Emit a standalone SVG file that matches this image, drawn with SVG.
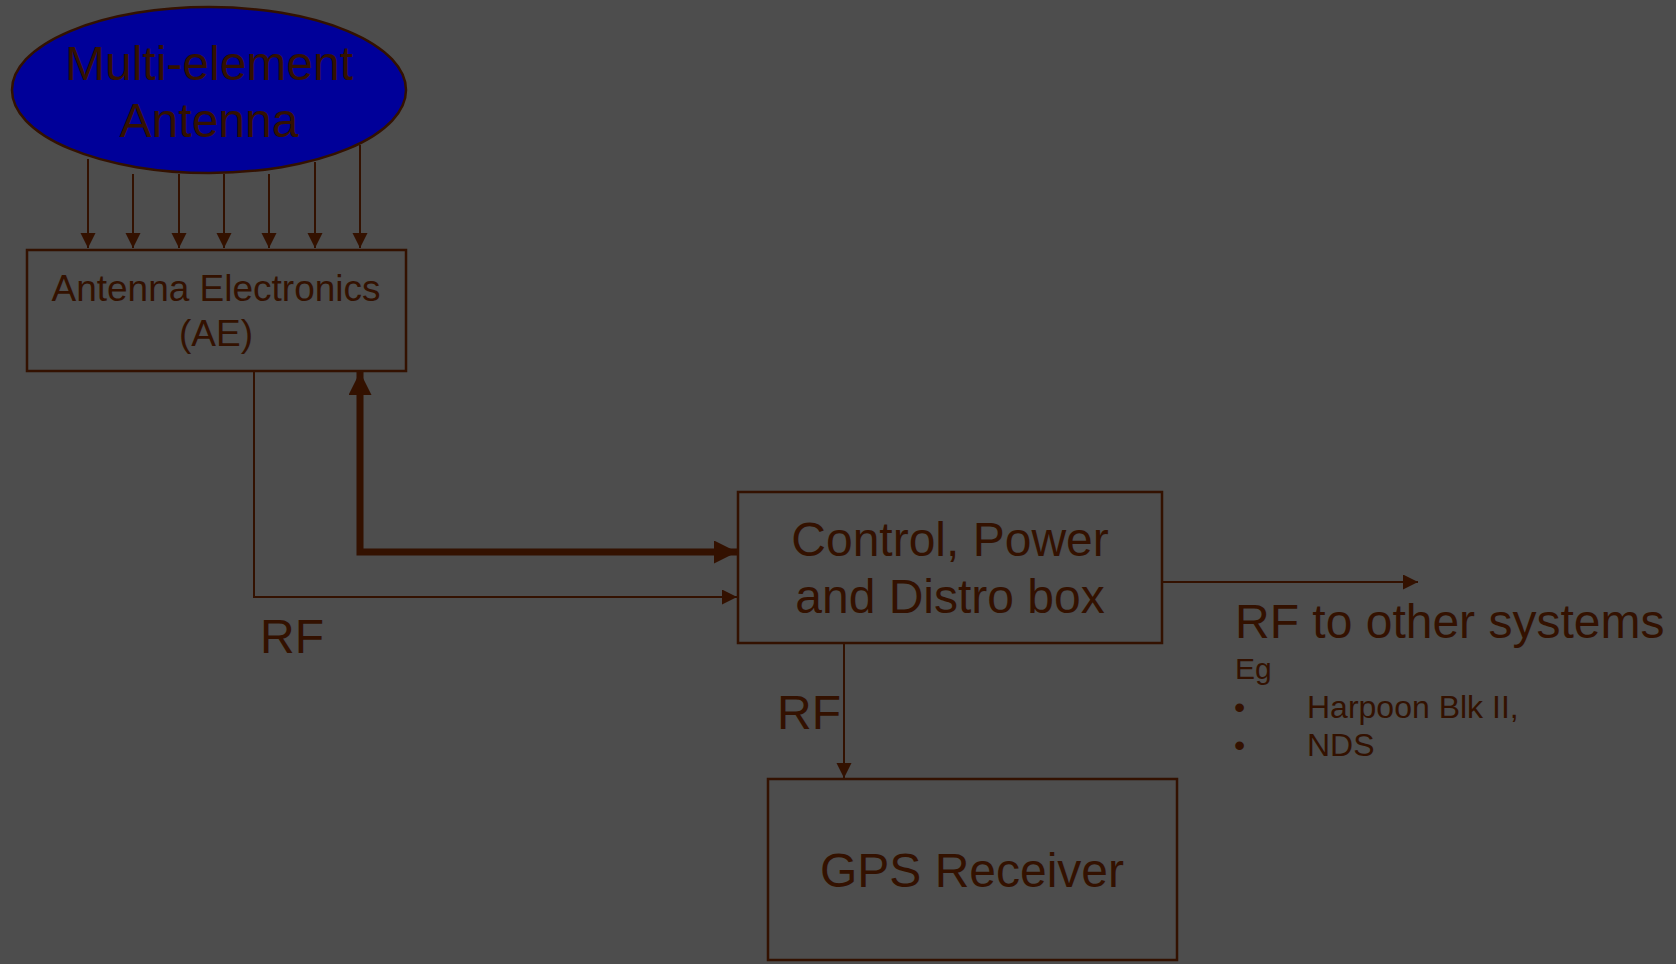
<svg xmlns="http://www.w3.org/2000/svg" width="1676" height="964" viewBox="0 0 1676 964">
<style>
.bx{fill:none;stroke:#331100;stroke-width:2.5}
.ln{fill:none;stroke:#331100;stroke-width:2}
.tk{fill:none;stroke:#331100;stroke-width:7}
text{font-family:"Liberation Sans",Arial,sans-serif;fill:#331100}
.big{font-size:48px}
.mid{font-size:37px}
.sm{font-size:32px}
</style>
<defs>
<marker id="ah" markerUnits="userSpaceOnUse" markerWidth="16" markerHeight="16" refX="15" refY="7.5" orient="auto">
<path d="M0,0 L15,7.5 L0,15 z" fill="#331100"/>
</marker>
<marker id="ahb" markerUnits="userSpaceOnUse" markerWidth="24" markerHeight="24" refX="23" refY="11.5" orient="auto-start-reverse">
<path d="M0,0 L23,11.5 L0,23 z" fill="#331100"/>
</marker>
</defs>
<rect width="1676" height="964" fill="#4d4d4d"/>
<g id="antenna">
<ellipse cx="209" cy="90" rx="197" ry="83" fill="#000099" stroke="#331100" stroke-width="2.5"/>
<text class="big" x="209" y="80" text-anchor="middle">Multi-element</text>
<text class="big" x="209" y="137" text-anchor="middle">Antenna</text>
</g>
<g id="ae">
<rect class="bx" x="27" y="250" width="379" height="121"/>
<text class="mid" x="216" y="301" text-anchor="middle">Antenna Electronics</text>
<text class="mid" x="216" y="346" text-anchor="middle">(AE)</text>
</g>
<g id="control">
<rect class="bx" x="738" y="492" width="424" height="151"/>
<text class="big" x="950" y="556" text-anchor="middle">Control, Power</text>
<text class="big" x="950" y="613" text-anchor="middle">and Distro box</text>
</g>
<g id="gps">
<rect class="bx" x="768" y="779" width="409" height="181"/>
<text class="big" x="972" y="887" text-anchor="middle">GPS Receiver</text>
</g>
<g id="connectors">
<line class="ln" x1="88" y1="159" x2="88" y2="248" marker-end="url(#ah)"/>
<line class="ln" x1="133" y1="174" x2="133" y2="248" marker-end="url(#ah)"/>
<line class="ln" x1="179" y1="174" x2="179" y2="248" marker-end="url(#ah)"/>
<line class="ln" x1="224" y1="174" x2="224" y2="248" marker-end="url(#ah)"/>
<line class="ln" x1="269" y1="174" x2="269" y2="248" marker-end="url(#ah)"/>
<line class="ln" x1="315" y1="162" x2="315" y2="248" marker-end="url(#ah)"/>
<line class="ln" x1="360" y1="145" x2="360" y2="248" marker-end="url(#ah)"/>
<path class="tk" d="M360,372 L360,552 L737,552" marker-start="url(#ahb)" marker-end="url(#ahb)"/>
<path class="ln" d="M254,371 L254,597 L737,597" marker-end="url(#ah)"/>
<line class="ln" x1="1162" y1="582" x2="1418" y2="582" marker-end="url(#ah)"/>
<line class="ln" x1="844" y1="643" x2="844" y2="778" marker-end="url(#ah)"/>
</g>
<g id="labels">
<text class="big" x="260" y="653">RF</text>
<text class="big" x="777" y="729">RF</text>
<text class="big" x="1235" y="638">RF to other systems</text>
<text style="font-size:30px" x="1235" y="679">Eg</text>
<text class="sm" x="1234" y="718">•</text>
<text class="sm" x="1307" y="718">Harpoon Blk II,</text>
<text class="sm" x="1234" y="756">•</text>
<text class="sm" x="1307" y="756">NDS</text>
</g>
</svg>
